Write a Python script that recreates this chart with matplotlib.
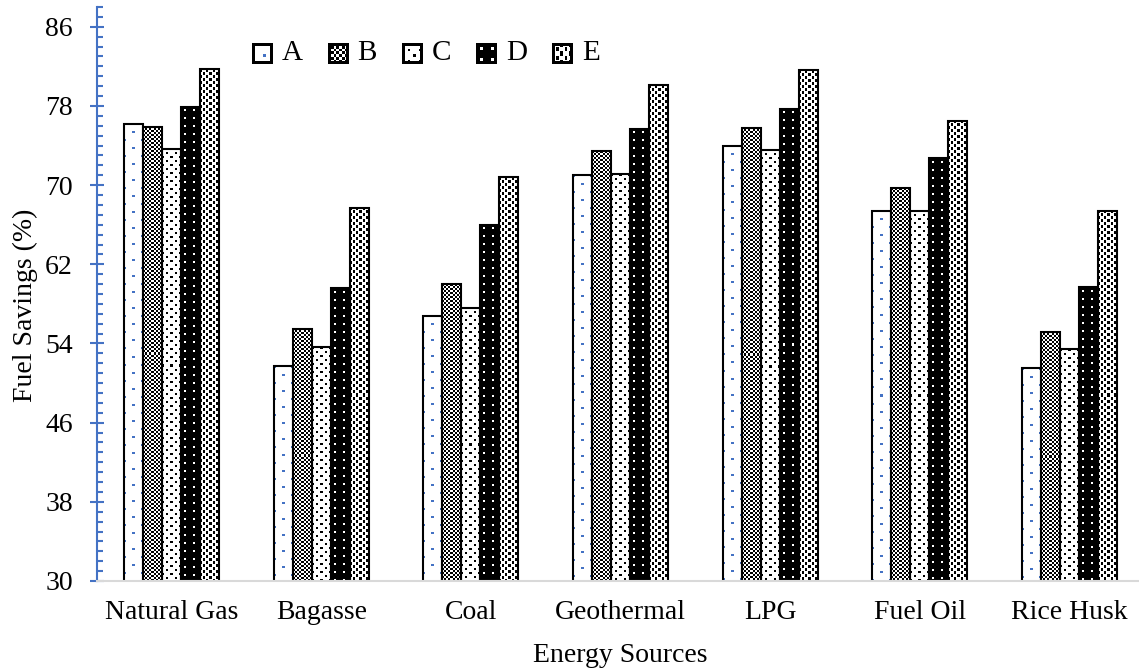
import numpy as np
import matplotlib.pyplot as plt
from matplotlib.ticker import MultipleLocator
from matplotlib.offsetbox import OffsetImage, TextArea, HPacker, AnnotationBbox

plt.rcParams['font.family'] = ['Liberation Serif', 'DejaVu Serif']

# data
sources = ['Natural Gas', 'Bagasse', 'Coal', 'Geothermal', 'LPG', 'Fuel Oil', 'Rice Husk']
series = ['A', 'B', 'C', 'D', 'E']
a_vals = [76.2, 51.7, 56.8, 71.0, 74.0, 67.4, 51.5]
b_vals = [75.9, 55.5, 60.0, 73.4, 75.8, 69.7, 55.2]
c_vals = [73.7, 53.6, 57.6, 71.1, 73.6, 67.4, 53.4]
d_vals = [77.9, 59.6, 66.0, 75.7, 77.7, 72.7, 59.7]
e_vals = [81.7, 67.7, 70.8, 80.1, 81.6, 76.5, 67.4]
yticks = [30, 38, 46, 54, 62, 70, 78, 86]

values = [a_vals, b_vals, c_vals, d_vals, e_vals]
BLUE = (0x44 / 255, 0x72 / 255, 0xC4 / 255)
YMIN, YMAX = 30, 88


def pattern(h, w, kind):
    # pixel fill patterns, one per series
    rr, cc = np.mgrid[0:h, 0:w]
    img = np.ones((h, w, 3))
    if kind == 'A':
        m = ((rr % 16 < 2) & (cc % 16 < 2)) | (((rr - 8) % 16 < 2) & ((cc - 8) % 16 < 2))
        img[m] = BLUE
    elif kind == 'B':
        m = ((rr // 2 + cc // 2) % 2) == 0
        img[m] = 0
    elif kind == 'C':
        m = ((rr % 8 < 2) & (cc % 8 < 2)) | (((rr - 4) % 8 < 2) & ((cc - 4) % 8 < 2))
        img[m] = 0
    elif kind == 'D':
        img[:] = 0
        m = ((rr - 3) % 8 < 2) & ((cc - 3) % 8 < 2)
        img[m] = 1
    elif kind == 'E':
        m = (((rr // 3 + cc // 3) % 2) == 0) & (cc % 3 < 2)
        img[m] = 0
    return img


fig = plt.figure(figsize=(11.39, 6.72), dpi=100)
ax = fig.add_axes([96.7 / 1139, 91 / 672, 1047.8 / 1139, 574 / 672])
ax.set_xlim(-0.5, len(sources) - 0.5)
ax.set_ylim(YMIN, YMAX)

x = np.arange(len(sources))
bw = 0.127

for j, (name, vals) in enumerate(zip(series, values)):
    pos = x + (j - 2) * bw
    ax.bar(pos, vals, bw, facecolor='none', edgecolor='black', linewidth=1.5, zorder=3)
    # fill each bar with its pattern
    for xc, v in zip(pos, vals):
        p0 = ax.transData.transform((xc - bw / 2, YMIN))
        p1 = ax.transData.transform((xc + bw / 2, v))
        w = max(int(round(p1[0] - p0[0])), 1)
        h = max(int(round(p1[1] - p0[1])), 1)
        ax.imshow(pattern(h, w, name), extent=(xc - bw / 2, xc + bw / 2, YMIN, v),
                  aspect='auto', interpolation='nearest', zorder=2)

ax.set_xlim(-0.5, len(sources) - 0.5)
ax.set_ylim(YMIN, YMAX)

# axes styling
ax.spines[['top', 'right']].set_visible(False)
ax.spines['left'].set_color(BLUE)
ax.spines['left'].set_linewidth(1.5)
ax.spines['bottom'].set_color('#D9D9D9')
ax.spines['bottom'].set_linewidth(1.5)
ax.spines['bottom'].set_zorder(4)

ax.set_yticks(yticks)
ax.yaxis.set_minor_locator(MultipleLocator(1))
ax.tick_params(axis='y', which='major', direction='inout', length=9.4, width=1.5,
               color=BLUE, pad=12.5, labelsize=20)
ax.tick_params(axis='y', which='minor', direction='in', length=4.3, width=1.5, color=BLUE)
ax.set_xticks(x)
ax.set_xticklabels(sources)
ax.tick_params(axis='x', length=0, pad=14, labelsize=20)

ax.set_ylabel('Fuel Savings (%)', fontsize=20)
ax.yaxis.set_label_coords(-0.056, 0.48)
ax.set_xlabel('Energy Sources', fontsize=20)
ax.xaxis.set_label_coords(0.5, -0.108)

# legend row with small pattern swatches
items = []
for name in series:
    sw = pattern(15, 15, name)
    sw[:2, :] = 0
    sw[-2:, :] = 0
    sw[:, :2] = 0
    sw[:, -2:] = 0
    img = OffsetImage(sw, zoom=1, dpi_cor=True, interpolation='nearest')
    txt = TextArea(name, textprops=dict(fontsize=21))
    items.append(HPacker(children=[img, txt], sep=6.5, align='center', pad=0))
row = HPacker(children=items, sep=18, align='center', pad=0)
leg = AnnotationBbox(row, (251.7, 672 - 53.5), xycoords='figure pixels',
                     box_alignment=(0, 0.5), frameon=False, pad=0)
ax.add_artist(leg)

fig.savefig('out.png', dpi=100)
